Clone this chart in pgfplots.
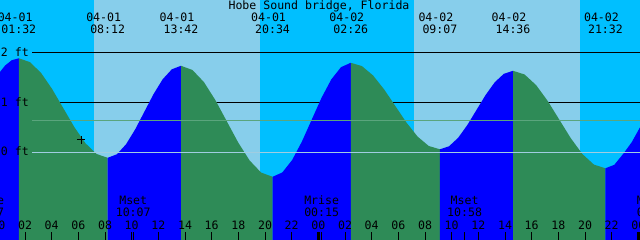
\documentclass[border=0pt]{standalone}
\usepackage{fontspec}
\usepackage{pgfplots}
\pgfplotsset{compat=1.18}
\newfontfamily\xt{DejaVu Sans Mono}
\newcommand\xf{\xt\fontsize{11.6}{12}\selectfont}
\definecolor{night}{RGB}{0,191,255}
\definecolor{day}{RGB}{135,206,235}
\definecolor{rise}{RGB}{0,0,255}
\definecolor{fall}{RGB}{46,139,87}
\definecolor{datum}{RGB}{160,205,225}
\definecolor{msl}{RGB}{90,165,125}
\begin{document}
\begin{tikzpicture}
\begin{axis}[
  width=640bp, height=240bp, scale only axis,
  xmin=0.125, xmax=48.125, ymin=-1.754, ymax=3.046,
  axis line style={draw=none},
  ytick=\empty,
  xtick={2,4,...,48},
  xticklabels={02,04,06,08,10,12,14,16,18,20,22,00,02,04,06,08,10,12,14,16,18,20,22,00},
  xtick pos=bottom,
  tick align=inside,
  major tick length=8bp,
  tick style={black, line width=1bp},
  xticklabel style={font=\xf, anchor=base, yshift=10bp, inner sep=0pt},
  axis on top=true,
  clip=true,
]
% day / night background
\addplot[draw=none, fill=night] coordinates {(-1,-2) (-1,4) (7.175,4) (7.175,-2)} -- cycle;
\addplot[draw=none, fill=day] coordinates {(7.175,-2) (7.175,4) (19.625,4) (19.625,-2)} -- cycle;
\addplot[draw=none, fill=night] coordinates {(19.625,-2) (19.625,4) (31.175,4) (31.175,-2)} -- cycle;
\addplot[draw=none, fill=day] coordinates {(31.175,-2) (31.175,4) (43.625,4) (43.625,-2)} -- cycle;
\addplot[draw=none, fill=night] coordinates {(43.625,-2) (43.625,4) (50,4) (50,-2)} -- cycle;
% height lines behind the water
\addplot[black, line width=1bp] coordinates {(2.525,2) (50,2)};
\addplot[black, line width=1bp] coordinates {(2.525,1) (50,1)};
% tide: rising (blue) and falling (green)
\addplot[draw=none, fill=rise] coordinates {(-0.5,-2)(-0.5,1.348)(0,1.565)(0.5,1.733)(1.0,1.841)(1.533,1.88)(1.533,-2)} -- cycle;
\addplot[draw=none, fill=fall] coordinates {(1.533,-2)(1.533,1.88)(2.367,1.804)(3.2,1.589)(4.033,1.266)(4.867,0.885)(5.7,0.504)(6.533,0.181)(7.367,-0.034)(8.2,-0.11)(8.2,-2)} -- cycle;
\addplot[draw=none, fill=rise] coordinates {(8.2,-2)(8.2,-0.11)(8.888,-0.04)(9.575,0.159)(10.263,0.458)(10.95,0.81)(11.638,1.162)(12.325,1.461)(13.013,1.66)(13.7,1.73)(13.7,-2)} -- cycle;
\addplot[draw=none, fill=fall] coordinates {(13.7,-2)(13.7,1.73)(14.558,1.646)(15.417,1.405)(16.275,1.045)(17.133,0.62)(17.992,0.195)(18.85,-0.165)(19.708,-0.405)(20.567,-0.49)(20.567,-2)} -- cycle;
\addplot[draw=none, fill=rise] coordinates {(20.567,-2)(20.567,-0.49)(21.3,-0.403)(22.033,-0.156)(22.767,0.214)(23.5,0.65)(24.233,1.086)(24.967,1.456)(25.7,1.703)(26.433,1.79)(26.433,-2)} -- cycle;
\addplot[draw=none, fill=fall] coordinates {(26.433,-2)(26.433,1.79)(27.269,1.724)(28.104,1.537)(28.94,1.256)(29.775,0.925)(30.61,0.594)(31.446,0.313)(32.281,0.126)(33.117,0.06)(33.117,-2)} -- cycle;
\addplot[draw=none, fill=rise] coordinates {(33.117,-2)(33.117,0.06)(33.802,0.12)(34.488,0.29)(35.173,0.545)(35.858,0.845)(36.544,1.145)(37.229,1.4)(37.915,1.57)(38.6,1.63)(38.6,-2)} -- cycle;
\addplot[draw=none, fill=fall] coordinates {(38.6,-2)(38.6,1.63)(39.467,1.556)(40.333,1.344)(41.2,1.028)(42.067,0.655)(42.933,0.282)(43.8,-0.034)(44.667,-0.246)(45.533,-0.32)(45.533,-2)} -- cycle;
\addplot[draw=none, fill=rise] coordinates {(45.533,-2)(45.533,-0.32)(46.2,-0.25)(46.9,-0.02)(47.5,0.2)(48.125,0.5)(48.5,0.68)(48.5,-2)} -- cycle;
% mean level and datum lines over the water
\addplot[msl, line width=1bp] coordinates {(2.525,0.63) (50,0.63)};
\addplot[datum, line width=1bp] coordinates {(2.525,0) (50,0)};
% current-time marker
\addplot[only marks, mark=+, mark size=4bp, black, mark options={line width=1bp}] coordinates {(6.2,0.25)};
% midnight bars and moon-event ticks
\addplot[black, line width=3bp] coordinates {(24.03,-2) (24.03,-1.594)};
\addplot[black, line width=3bp] coordinates {(48.03,-2) (48.03,-1.594)};
\addplot[black, line width=1bp] coordinates {(10.117,-2) (10.117,-1.594)};
\addplot[black, line width=1bp] coordinates {(24.25,-2) (24.25,-1.594)};
\addplot[black, line width=1bp] coordinates {(34.967,-2) (34.967,-1.594)};
% texts
\begin{scope}[every node/.style={font=\xf, inner sep=0pt, anchor=base}]
\node at (axis cs:24.05,2.846) {Hobe Sound bridge, Florida};
\node at (axis cs:1.263,2.612) {04-01};  \node at (axis cs:1.533,2.38) {01:32};
\node at (axis cs:7.9,2.612) {04-01};    \node at (axis cs:8.2,2.38) {08:12};
\node at (axis cs:13.4,2.612) {04-01};   \node at (axis cs:13.7,2.38) {13:42};
\node at (axis cs:20.267,2.612) {04-01}; \node at (axis cs:20.567,2.38) {20:34};
\node at (axis cs:26.133,2.612) {04-02}; \node at (axis cs:26.433,2.38) {02:26};
\node at (axis cs:32.817,2.612) {04-02}; \node at (axis cs:33.117,2.38) {09:07};
\node at (axis cs:38.3,2.612) {04-02};   \node at (axis cs:38.6,2.38) {14:36};
\node at (axis cs:45.233,2.612) {04-02}; \node at (axis cs:45.533,2.38) {21:32};
\node[anchor=base east] at (axis cs:2.30,1.912) {2 ft};
\node[anchor=base east] at (axis cs:2.30,0.912) {1 ft};
\node[anchor=base east] at (axis cs:2.30,-0.074) {0 ft};
\node at (axis cs:0,-1.554) {00};
\node at (axis cs:-0.88,-1.054) {Mrise}; \node at (axis cs:-0.88,-1.288) {23:07};
\node at (axis cs:10.117,-1.054) {Mset}; \node at (axis cs:10.117,-1.288) {10:07};
\node at (axis cs:24.25,-1.054) {Mrise}; \node at (axis cs:24.25,-1.288) {00:15};
\node at (axis cs:34.967,-1.054) {Mset}; \node at (axis cs:34.967,-1.288) {10:58};
\node at (axis cs:49.2,-1.054) {Mrise};  \node at (axis cs:49.2,-1.288) {01:12};
\end{scope}
\coordinate (BL) at (rel axis cs:0,0);
\coordinate (TR) at (rel axis cs:1,1);
\end{axis}
\pgfresetboundingbox
\path (BL) rectangle (TR);
\end{tikzpicture}
\end{document}
